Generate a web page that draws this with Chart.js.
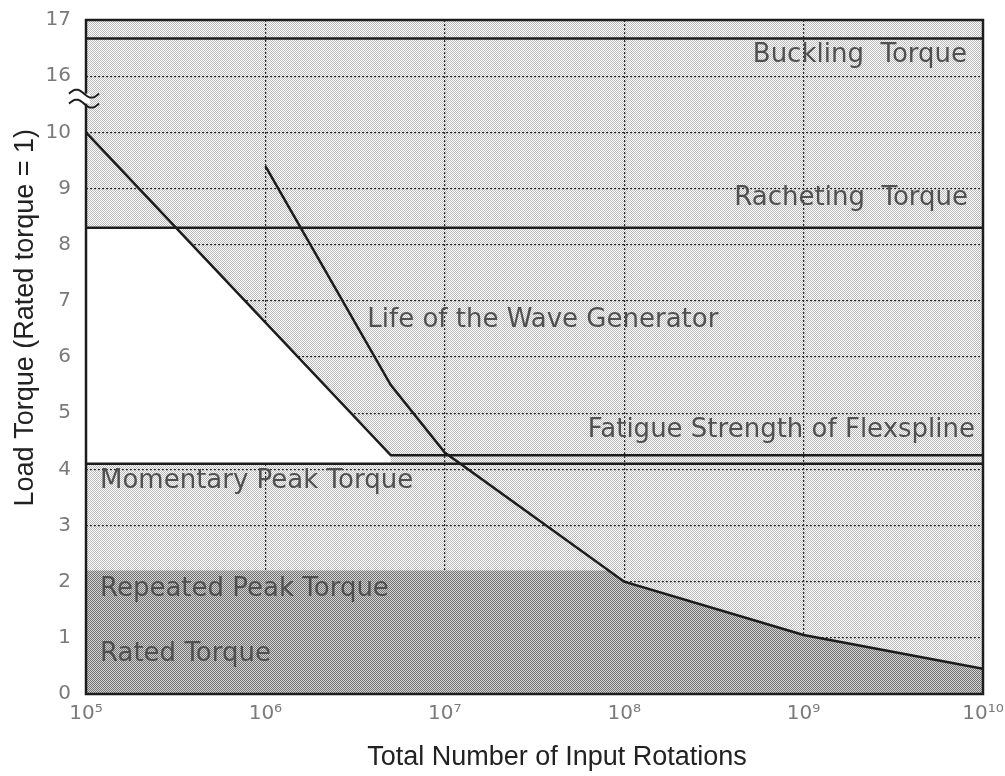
<!DOCTYPE html>
<html>
<head>
<meta charset="utf-8">
<script src="https://cdn.jsdelivr.net/npm/chart.js@4.4.1/dist/chart.umd.min.js"></script>
<style>
  body { margin: 0; background: #fff; }
  #wrap { width: 1005px; height: 776px; }
</style>
</head>
<body>
<div id="wrap"><canvas id="myChart" width="1005" height="776"></canvas></div>
<script>
// x axis decades (total input rotations)
const xTicks = [1e5, 1e6, 1e7, 1e8, 1e9, 1e10];
const xTickLabels = ["10⁵", "10⁶", "10⁷", "10⁸", "10⁹", "10¹⁰"];
// y axis has a break between 10 and 16
const yTickLabels = ["0", "1", "2", "3", "4", "5", "6", "7", "8", "9", "10", "16", "17"];

// life of the wave generator
const lifeX = [1e6, 5e6, 1e7, 1e8, 1e9, 1e10];
const lifeY = [9.4, 5.5, 4.3, 2.0, 1.05, 0.45];

// fatigue strength of flexspline
const flexX = [1e5, 5e6, 1e10];
const flexY = [10, 4.25, 4.25];

// torque limits (rated torque = 1)
const bucklingTorque = 16.67;
const rachetingTorque = 8.3;
const momentaryPeak = 4.1;
const repeatedPeak = 2.2;

// ------------------------------------------

// values above 10 sit after the axis break (16 -> 11, 17 -> 12)
const brk = v => (v > 10 ? v - 5 : v);
const pts = (xs, ys) => xs.map((x, i) => ({ x: x, y: brk(ys[i]) }));
const flat = v => [{ x: xTicks[0], y: brk(v) }, { x: xTicks[xTicks.length - 1], y: brk(v) }];

// where a curve crosses a level (log x)
function crossAt(xs, ys, level) {
    for (let i = 0; i < xs.length - 1; i++) {
        const a = ys[i], b = ys[i + 1];
        if ((a - level) * (b - level) <= 0 && a !== b) {
            const t = (a - level) / (a - b);
            const l0 = Math.log10(xs[i]), l1 = Math.log10(xs[i + 1]);
            return Math.pow(10, l0 + t * (l1 - l0));
        }
    }
}

// white area: under the flexspline curve, below racheting torque
const whiteArea = [
    { x: flexX[0], y: rachetingTorque },
    { x: crossAt(flexX, flexY, rachetingTorque), y: rachetingTorque },
    { x: flexX[1], y: flexY[1] }
];

// dark area: repeated peak torque, cut by the life curve
const darkArea = [
    { x: xTicks[0], y: repeatedPeak },
    { x: crossAt(lifeX, lifeY, repeatedPeak), y: repeatedPeak }
].concat(pts(lifeX, lifeY).filter(p => p.y < repeatedPeak));

// halftone-like dot patterns
function dots(bg, fg) {
    const c = document.createElement("canvas");
    c.width = 2; c.height = 2;
    const g = c.getContext("2d");
    g.fillStyle = bg; g.fillRect(0, 0, 2, 2);
    g.fillStyle = fg; g.fillRect(0, 0, 1, 1); g.fillRect(1, 1, 1, 1);
    return g.createPattern(c, "repeat");
}
const lightDots = dots("#ffffff", "#b9b9b9");
const darkDots = dots("#d2d2d2", "#747474");

const ink = "#1c1c1c";

const plotBg = {
    id: "plotBg",
    beforeDraw(chart) {
        const { ctx, chartArea: a } = chart;
        ctx.save();
        ctx.fillStyle = lightDots;
        ctx.fillRect(a.left, a.top, a.width, a.height);
        ctx.restore();
    }
};

const labels = [
    { text: "Buckling  Torque", y: 11.38, align: "right", gap: 16 },
    { text: "Racheting  Torque", y: 8.82, align: "right", gap: 15 },
    { text: "Life of the Wave Generator", y: 6.65, align: "left", at: 3.7e6 },
    { text: "Fatigue Strength of Flexspline", y: 4.69, align: "right", gap: 8 },
    { text: "Momentary Peak Torque", y: 3.79, align: "left", gap: 14 },
    { text: "Repeated Peak Torque", y: 1.86, align: "left", gap: 14 },
    { text: "Rated Torque", y: 0.7, align: "left", gap: 14 }
];

const frame = {
    id: "frame",
    afterDraw(chart) {
        const { ctx, chartArea: a, scales } = chart;
        ctx.save();
        // labels
        ctx.font = "26px 'DejaVu Sans'";
        ctx.fillStyle = "#505050";
        ctx.textBaseline = "middle";
        labels.forEach(l => {
            let x;
            if (l.at) x = scales.x.getPixelForValue(l.at);
            else x = l.align === "right" ? a.right - l.gap : a.left + l.gap;
            ctx.textAlign = l.align;
            ctx.fillText(l.text, x, scales.y.getPixelForValue(l.y));
        });
        // axis titles
        ctx.font = "27px 'Liberation Sans'";
        ctx.fillStyle = "#222";
        ctx.textAlign = "center";
        ctx.textBaseline = "alphabetic";
        ctx.fillText("Total Number of Input Rotations", a.left + 471, 765);
        ctx.save();
        ctx.translate(33, scales.y.getPixelForValue(6.7));
        ctx.rotate(-Math.PI / 2);
        ctx.fillText("Load Torque (Rated torque = 1)", 0, 0);
        ctx.restore();
        // border
        ctx.strokeStyle = ink;
        ctx.lineWidth = 2.5;
        ctx.strokeRect(a.left, a.top, a.width, a.height);
        // axis break
        const yb = scales.y.getPixelForValue(10.6);
        ctx.fillStyle = "#fff";
        ctx.fillRect(a.left - 3, yb - 5, 7, 10);
        ctx.lineWidth = 2;
        [-5, 5].forEach(d => {
            ctx.beginPath();
            for (let t = -15; t <= 15; t++) {
                const px = a.left - 2 + t;
                const py = yb + d + 4 * Math.sin(Math.PI * t / 15);
                if (t === -15) ctx.moveTo(px, py); else ctx.lineTo(px, py);
            }
            ctx.stroke();
        });
        ctx.restore();
    }
};

const line = (data, w) => ({
    data: data,
    borderColor: ink,
    borderWidth: w || 2.5,
    pointRadius: 0,
    fill: false,
    tension: 0
});

new Chart("myChart", {
    type: "line",
    data: {
        datasets: [
            line(pts(lifeX, lifeY)),
            line(pts(flexX, flexY)),
            line(flat(momentaryPeak)),
            line(flat(rachetingTorque)),
            line(flat(bucklingTorque)),
            {
                data: whiteArea,
                borderWidth: 0,
                pointRadius: 0,
                backgroundColor: "#ffffff",
                fill: { value: momentaryPeak }
            },
            {
                data: darkArea,
                borderWidth: 0,
                pointRadius: 0,
                backgroundColor: darkDots,
                fill: "origin"
            }
        ]
    },
    options: {
        responsive: false,
        animation: false,
        layout: { padding: { top: 20, right: 22, left: 0, bottom: 0 } },
        plugins: {
            legend: { display: false },
            tooltip: { enabled: false }
        },
        scales: {
            x: {
                type: "logarithmic",
                min: xTicks[0],
                max: xTicks[xTicks.length - 1],
                z: 1,
                afterBuildTicks: s => { s.ticks = xTicks.map(v => ({ value: v })); },
                afterFit: s => { s.height = 82; s.paddingLeft = 0; s.paddingRight = 0; },
                ticks: {
                    autoSkip: false,
                    maxRotation: 0,
                    padding: 8,
                    color: "#7a7a7a",
                    font: { family: "DejaVu Sans", size: 20 },
                    callback: (v, i) => xTickLabels[i]
                },
                grid: { color: "#2a2a2a", lineWidth: 1.2, drawTicks: false },
                border: { display: false, dash: [2, 2] }
            },
            y: {
                min: 0,
                max: 12,
                z: 1,
                afterFit: s => { s.width = 86; s.paddingTop = 0; s.paddingBottom = 0; },
                ticks: {
                    stepSize: 1,
                    padding: 15,
                    color: "#7a7a7a",
                    font: { family: "DejaVu Sans", size: 20 },
                    callback: (v, i) => yTickLabels[i]
                },
                grid: { color: "#2a2a2a", lineWidth: 1.2, drawTicks: false },
                border: { display: false, dash: [2, 2] }
            }
        }
    },
    plugins: [plotBg, frame]
});
</script>
</body>
</html>
